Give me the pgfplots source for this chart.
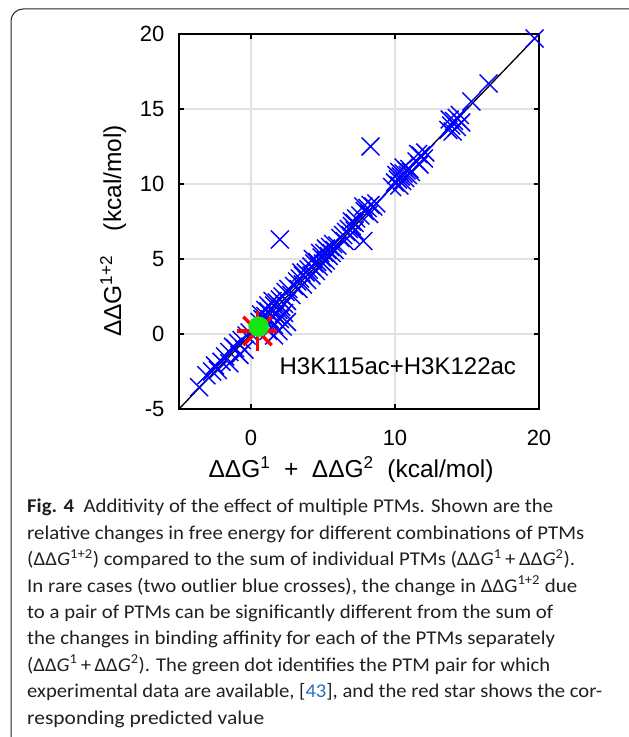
\documentclass[border=0pt]{standalone}
\usepackage{fontspec}
\setmainfont{Liberation Sans}
\newfontfamily\capfont{Carlito}
\usepackage{graphicx}
\usepackage{pgfplots}
\pgfplotsset{compat=1.18}

\definecolor{gridgray}{RGB}{225,225,225}
\definecolor{dotgreen}{RGB}{20,230,20}
\definecolor{linkblue}{RGB}{40,110,190}
\definecolor{capgray}{RGB}{35,31,32}

% caption line: stretched to the width it has in the figure
\newcommand{\capline}[2]{\resizebox{#1pt}{\height}{#2}}

\pgfplotstableread{
x y
-3.6 -3.55
-3.1 -2.75
-2.7 -2.5
-2.5 -2.1
-2.3 -2.4
-2.05 -1.85
-1.8 -1.5
-1.5 -1.2
-1.5 -1.95
-1.25 -0.85
-1.1 -0.95
-0.9 -0.6
-0.8 -1.4
-0.65 -0.4
-0.45 -1.05
-0.3 -0.1
-0.1 0.1
0.3 0.4
0.6 0.8
0.8 1.0
1.0 1.2
1.2 1.5
1.4 1.7
1.6 1.9
1.8 2.1
2.0 2.3
2.2 2.5
0.9 0.5
1.1 0.8
1.3 1.0
1.5 1.2
1.7 1.3
1.9 1.6
2.1 1.8
2.3 2.0
2.5 2.2
1.0 1.6
1.2 1.9
0.7 1.3
1.5 2.2
2.4 2.8
2.6 3.0
2.8 2.6
2.0 1.0
1.6 0.6
1.2 0.2
2.3 1.4
1.9 0.2
2.2 0.5
2.5 0.8
1.6 -0.1
3.0 3.2
3.2 3.5
3.4 3.7
3.6 3.9
3.8 4.1
4.0 4.3
4.2 4.5
4.4 4.7
3.3 3.0
3.6 3.3
3.9 3.6
4.2 3.9
4.5 4.2
4.7 4.5
3.5 4.1
4.3 5.0
4.6 4.8
4.9 5.1
5.1 5.4
5.3 5.6
5.5 5.8
5.7 6.0
5.0 4.7
5.2 4.9
5.4 5.2
5.6 5.4
5.8 5.6
6.0 5.9
4.8 5.4
5.2 5.7
6.2 6.4
6.4 6.6
6.6 6.8
6.8 7.0
7.0 7.2
7.2 7.4
6.5 6.2
6.9 6.6
7.2 6.9
7.8 6.2
7.0 7.5
7.3 7.7
7.6 7.9
7.8 8.5
7.9 8.2
8.1 8.4
8.3 8.6
8.5 8.5
8.2 8.0
8.7 8.7
9.8 9.8
10.0 10.1
10.2 10.3
10.4 10.5
10.6 10.7
10.8 10.9
11.0 11.0
10.1 10.6
10.3 10.8
10.5 10.2
10.7 10.4
10.9 10.6
10.3 9.9
10.6 11.1
11.1 10.8
11.5 11.5
11.8 11.9
12.1 12.1
11.7 11.3
12.0 11.7
11.6 12.0
13.7 13.6
13.9 13.9
14.1 14.2
14.3 14.4
14.5 14.6
14.0 13.5
14.3 13.8
14.6 14.1
13.8 14.3
15.3 15.5
16.5 16.7
19.7 19.7
2.0 6.3
8.3 12.5
}\pairs

\begin{document}
\begin{tikzpicture}[x=1pt,y=1pt]
\path[use as bounding box] (0,0) rectangle (629,737);
\draw[line width=1pt, black!85] (11,0) -- (11,716) arc[start angle=180,end angle=90,radius=12] -- (629,728);

\begin{axis}[
    at={(179pt,328pt)}, anchor=south west,
    width=360pt, height=375pt, scale only axis,
    xmin=-5, xmax=20, ymin=-5, ymax=20,
    xtick={0,10,20}, ytick={-5,0,5,10,15,20},
    grid=major, grid style={gridgray, line width=1.3pt},
    tick align=inside, major tick length=5pt,
    axis line style={line width=1.3pt},
    every tick/.style={black, line width=1.2pt},
    ticklabel style={font=\fontsize{22}{22}\selectfont},
    xticklabel style={yshift=-18pt},
    yticklabel style={xshift=-11pt},
    /pgf/number format/assume math mode=true,
    xlabel={ΔΔG\textsuperscript{1}\ \ +\ \ ΔΔG\textsuperscript{2}\ \ (kcal/mol)},
    ylabel={ΔΔG\textsuperscript{1+2}\quad(kcal/mol)},
    label style={font=\fontsize{24.5}{24.5}\selectfont},
    xlabel style={at={(axis description cs:0.478,-0.184)}, anchor=base},
    ylabel style={at={(axis description cs:-0.161,0.475)}, anchor=base},
]
\addplot[only marks, blue, mark=x, mark size=12.7pt, mark options={line width=1.45pt}] table {\pairs};
\addplot[black, line width=1.3pt] coordinates {(-5,-5) (20,20)};
\addplot[only marks, red, mark=+, mark size=20pt, mark options={line width=3.5pt}] coordinates {(0.45,0.2)};
\addplot[only marks, red, mark=x, mark size=20pt, mark options={line width=3.5pt}] coordinates {(0.45,0.2)};
\addplot[only marks, dotgreen, mark=*, mark size=10pt] coordinates {(0.53,0.49)};
\node[anchor=base west, font=\fontsize{24}{24}\selectfont] at (axis cs:1.74,-2.7) {H3K115ac+H3K122ac};
\end{axis}

\begin{scope}[every node/.style={anchor=base west, inner sep=0pt, text=capgray, font=\capfont\fontsize{19.5}{20}\selectfont}]
\node at (27,224) {\capline{526}{\textbf{Fig. 4}\hspace{9pt}Additivity of the effect of multiple PTMs. Shown are the}};
\node at (27,197.6) {\capline{557}{relative changes in free energy for different combinations of PTMs}};
\node at (27,171.2) {\capline{548}{(ΔΔ\textit{G}\textsuperscript{1+2}) compared to the sum of individual PTMs (ΔΔ\textit{G}\textsuperscript{1}\,+\,ΔΔ\textit{G}\textsuperscript{2}).}};
\node at (27,144.8) {\capline{550}{In rare cases (two outlier blue crosses), the change in ΔΔG\textsuperscript{1+2} due}};
\node at (27,118.4) {\capline{526}{to a pair of PTMs can be significantly different from the sum of}};
\node at (27,92) {\capline{528}{the changes in binding affinity for each of the PTMs separately}};
\node at (27,65.6) {\capline{523}{(ΔΔ\textit{G}\textsuperscript{1}\,+\,ΔΔ\textit{G}\textsuperscript{2}). The green dot identifies the PTM pair for which}};
\node at (27,39.2) {\capline{575}{experimental data are available, [\textcolor{linkblue}{43}], and the red star shows the cor-}};
\node at (27,12.8) {\capline{237}{responding predicted value}};
\end{scope}
\end{tikzpicture}
\end{document}
